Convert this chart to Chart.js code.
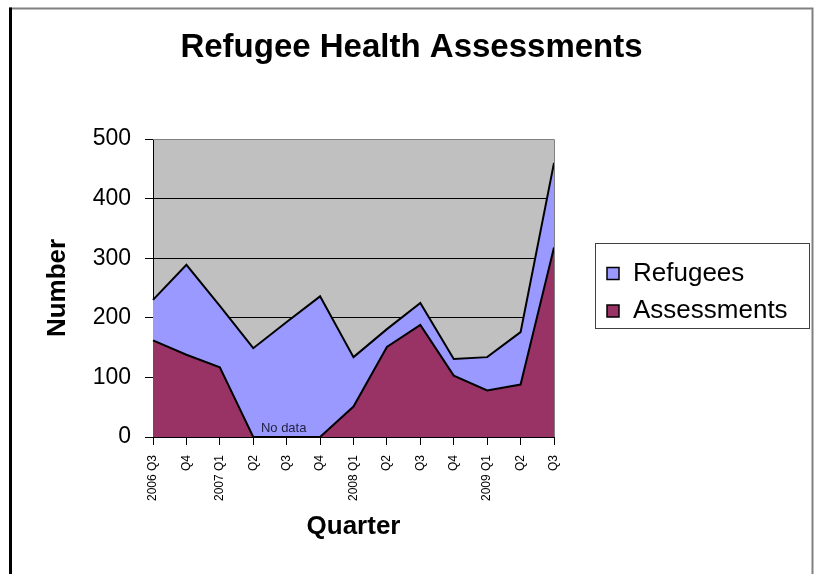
<!DOCTYPE html>
<html><head><meta charset="utf-8">
<script src="https://cdn.jsdelivr.net/npm/chart.js@4/dist/chart.umd.min.js"></script>
<style>html,body{margin:0;padding:0;background:#fff;} canvas{display:block;}</style>
</head><body>
<canvas id="c" width="815" height="574"></canvas>
<script>
const categories = ["2006 Q3","Q4","2007 Q1","Q2","Q3","Q4","2008 Q1","Q2","Q3","Q4","2009 Q1","Q2","Q3"];
const refugees = [230,289,220,149,193,236,134,181,225,131,134,176,460];
const assessments = [162,138,117,0,0,0,51,151,188,103,78,88,318];
const yTicks = [0,100,200,300,400,500];
const seriesNames = ["Refugees","Assessments"];
const chartTitle = "Refugee Health Assessments";
const noDataLabel = "No data";
const noDataIndex = 4;

const FONT = "'Liberation Sans', Arial, sans-serif";
Chart.defaults.font.family = FONT;
Chart.defaults.color = '#000';

const framePlugin = {
  id: 'frame',
  beforeDraw(chart) {
    const ctx = chart.ctx, a = chart.chartArea;
    ctx.save();
    ctx.fillStyle = '#fff';
    ctx.fillRect(0, 0, chart.width, chart.height);
    ctx.fillStyle = '#c0c0c0';
    ctx.fillRect(a.left, a.top, a.right - a.left, a.bottom - a.top);
    ctx.restore();
  },
  afterDraw(chart) {
    const ctx = chart.ctx, a = chart.chartArea;
    ctx.save();
    // plot area top/right border
    ctx.strokeStyle = '#808080';
    ctx.lineWidth = 1;
    ctx.beginPath();
    ctx.moveTo(a.left, a.top + 0.5);
    ctx.lineTo(a.right + 0.5, a.top + 0.5);
    ctx.lineTo(a.right + 0.5, a.bottom);
    ctx.stroke();
    // outer chart border
    ctx.strokeStyle = '#808080';
    ctx.lineWidth = 2;
    ctx.beginPath();
    ctx.moveTo(9, 8.5);
    ctx.lineTo(812.5, 8.5);
    ctx.lineTo(812.5, chart.height + 5);
    ctx.stroke();
    ctx.strokeStyle = '#000';
    ctx.lineWidth = 3;
    ctx.beginPath();
    ctx.moveTo(10.5, 7.5);
    ctx.lineTo(10.5, chart.height + 5);
    ctx.stroke();

    // title
    ctx.fillStyle = '#000';
    ctx.font = 'bold 33px ' + FONT;
    ctx.textAlign = 'center';
    ctx.textBaseline = 'alphabetic';
    ctx.fillText(chartTitle, 411.5, 57);

    // "No data" note
    const xs = chart.scales.x, ys = chart.scales.y;
    ctx.fillStyle = '#222244';
    ctx.font = '13px ' + FONT;
    ctx.textAlign = 'center';
    ctx.textBaseline = 'middle';
    ctx.fillText(noDataLabel, xs.getPixelForValue(noDataIndex) - 3, ys.getPixelForValue(15));

    // legend
    const lx = 595, ly = 243, lw = 214, lh = 85;
    ctx.fillStyle = '#fff';
    ctx.fillRect(lx, ly, lw, lh);
    ctx.strokeStyle = '#404040';
    ctx.lineWidth = 1;
    ctx.strokeRect(lx + 0.5, ly + 0.5, lw, lh);
    const ds = chart.data.datasets;
    const baselines = [280.5, 318];
    ds.forEach((d, i) => {
      const by = baselines[i];
      ctx.fillStyle = d.backgroundColor;
      ctx.fillRect(607, by - 13, 12, 12);
      ctx.strokeStyle = '#000';
      ctx.lineWidth = 1.5;
      ctx.strokeRect(607, by - 13, 12, 12);
      ctx.fillStyle = '#000';
      ctx.font = '26px ' + FONT;
      ctx.textAlign = 'left';
      ctx.textBaseline = 'alphabetic';
      ctx.fillText(d.label, 633, by);
    });
    ctx.restore();
  }
};

new Chart(document.getElementById('c'), {
  type: 'line',
  data: {
    labels: categories,
    datasets: [
      { label: seriesNames[0], data: refugees, backgroundColor: '#9999ff', borderColor: '#000', borderWidth: 2,
        fill: 'origin', pointRadius: 0, tension: 0, order: 1 },
      { label: seriesNames[1], data: assessments, backgroundColor: '#993366', borderColor: '#000', borderWidth: 2,
        fill: 'origin', pointRadius: 0, tension: 0, order: 0 }
    ]
  },
  options: {
    responsive: false,
    animation: false,
    layout: { padding: { left: 0, right: 261, top: 139, bottom: 0 } },
    plugins: {
      legend: { display: false },
      tooltip: { enabled: false },
      title: { display: false }
    },
    scales: {
      x: {
        type: 'category',
        offset: false,
        grid: { drawOnChartArea: false, drawTicks: true, tickLength: 8, tickColor: '#000', color: '#000' },
        border: { display: true, color: '#000', width: 1 },
        ticks: { autoSkip: false, maxRotation: 90, minRotation: 90, padding: 10, color: '#000',
                 font: { size: 12, family: FONT } },
        title: { display: true, text: 'Quarter', color: '#000', font: { size: 26, weight: 'bold', family: FONT },
                 padding: { top: 0, bottom: 32 } },
        afterFit(scale) { scale.height = 137; }
      },
      y: {
        min: 0, max: 500,
        afterBuildTicks(scale) { scale.ticks = yTicks.map(v => ({ value: v })); },
        grid: {
          drawTicks: true, tickLength: 8, tickColor: '#000', lineWidth: 1,
          color: (c) => (c.tick && c.tick.value > 0 && c.tick.value < 500) ? '#000' : 'rgba(0,0,0,0)'
        },
        border: { display: true, color: '#000', width: 1 },
        ticks: { padding: 14, color: '#000', font: { size: 23, family: FONT } },
        title: { display: true, text: 'Number', color: '#000', font: { size: 26, weight: 'bold', family: FONT },
                 padding: { top: 42, bottom: 0 } },
        afterFit(scale) { scale.width = 153; }
      }
    }
  },
  plugins: [framePlugin]
});
</script>
</body></html>
